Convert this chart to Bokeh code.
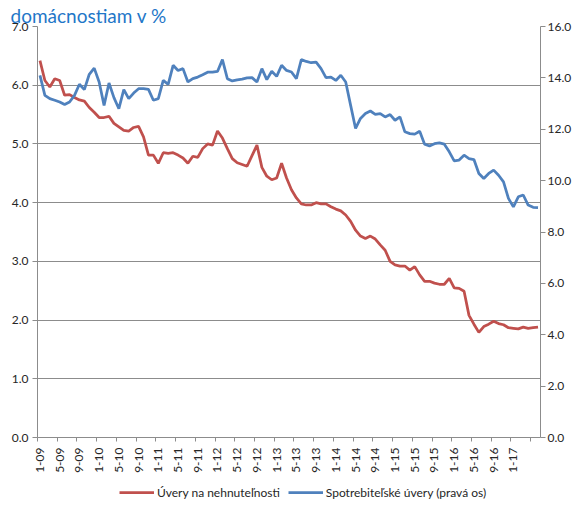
from math import pi
from bokeh.plotting import figure
from bokeh.layouts import column
from bokeh.models import (Range1d, LinearAxis, FixedTicker, NumeralTickFormatter,
                          Legend, LegendItem, SingleIntervalTicker)
from bokeh.embed import file_html
from bokeh.resources import INLINE

# ---------------- data ----------------
tick_labels = ["1-09", "5-09", "9-09", "1-10", "5-10", "9-10", "1-11", "5-11", "9-11",
               "1-12", "5-12", "9-12", "1-13", "5-13", "9-13", "1-14", "5-14", "9-14",
               "1-15", "5-15", "9-15", "1-16", "5-16", "9-16", "1-17"]

# Úvery na nehnuteľnosti (left axis), monthly 1-09 .. 6-17
mortgage = [6.42, 6.08, 5.97, 6.11, 6.08, 5.83, 5.84, 5.79, 5.75, 5.73,
            5.62, 5.54, 5.45, 5.45, 5.47, 5.35, 5.29, 5.23, 5.22, 5.28,
            5.30, 5.12, 4.81, 4.81, 4.67, 4.85, 4.84, 4.85, 4.81, 4.76,
            4.67, 4.79, 4.77, 4.92, 5.00, 4.98, 5.22, 5.10, 4.92, 4.75,
            4.68, 4.65, 4.62, 4.80, 4.98, 4.60, 4.45, 4.39, 4.42, 4.67,
            4.42, 4.22, 4.08, 3.98, 3.96, 3.96, 4.00, 3.98, 3.98, 3.93,
            3.89, 3.86, 3.79, 3.68, 3.53, 3.43, 3.39, 3.43, 3.38, 3.28,
            3.19, 3.00, 2.94, 2.92, 2.92, 2.85, 2.91, 2.77, 2.66, 2.66,
            2.63, 2.61, 2.61, 2.71, 2.55, 2.54, 2.49, 2.08, 1.93, 1.79,
            1.89, 1.93, 1.98, 1.94, 1.92, 1.87, 1.86, 1.85, 1.88, 1.86,
            1.87, 1.88]

# Spotrebiteľské úvery (right axis)
consumer = [14.10, 13.32, 13.19, 13.13, 13.06, 12.96, 13.06, 13.32, 13.75, 13.54,
            14.14, 14.38, 13.84, 12.93, 13.80, 13.23, 12.80, 13.54, 13.19, 13.41,
            13.58, 13.58, 13.55, 13.13, 13.19, 13.90, 13.75, 14.49, 14.29, 14.36,
            13.84, 13.97, 14.03, 14.12, 14.22, 14.22, 14.25, 14.71, 13.97, 13.88,
            13.92, 13.95, 14.00, 14.01, 13.84, 14.36, 13.93, 14.26, 14.06, 14.49,
            14.29, 14.23, 13.97, 14.71, 14.64, 14.59, 14.61, 14.36, 14.01, 14.03,
            13.90, 14.10, 13.84, 12.93, 12.03, 12.42, 12.61, 12.71, 12.58, 12.61,
            12.48, 12.57, 12.35, 12.48, 11.90, 11.83, 11.81, 11.92, 11.42, 11.35,
            11.44, 11.47, 11.42, 11.12, 10.77, 10.80, 10.99, 10.86, 10.82, 10.28,
            10.08, 10.28, 10.41, 10.21, 9.95, 9.31, 8.98, 9.37, 9.44, 9.05,
            8.96, 8.95]

title_text = "domácnostiam v %"
legend_labels = ["Úvery na nehnuteľnosti", "Spotrebiteľské úvery (pravá os)"]

# ---------------- styling ----------------
FONT = "Lato"
GRID = "#8c8c8c"
TEXT = "#262626"
RED = "#C0504D"
BLUE = "#4F81BD"
TITLE_BLUE = "#1f77c8"

n = len(mortgage)
x = list(range(n))

p = figure(width=574, height=475, output_backend="svg", toolbar_location=None,
           x_range=Range1d(-0.5, n - 0.5), y_range=Range1d(0, 7),
           min_border_left=37, min_border_right=31, min_border_top=26,
           min_border_bottom=37)
p.extra_y_ranges = {"right": Range1d(0, 16)}
p.outline_line_color = None
p.background_fill_color = "white"
p.border_fill_color = "white"

# title
p.title.text = title_text
p.title.text_font = FONT
p.title.text_font_size = "19px"
p.title.text_font_style = "normal"
p.title.text_color = TITLE_BLUE
p.title.align = "left"
p.title.offset = -27
p.title.standoff = 0

r1 = p.line(x, mortgage, line_color=RED, line_width=2.75)
r2 = p.line(x, consumer, line_color=BLUE, line_width=2.75, y_range_name="right")

# x axis
xa = p.xaxis[0]
xa.ticker = FixedTicker(ticks=[4 * i for i in range(len(tick_labels))],
                        minor_ticks=[4 * i - 0.5 for i in range(len(tick_labels) + 1)])
xa.major_label_overrides = {4 * i: lab for i, lab in enumerate(tick_labels)}
xa.major_label_orientation = pi / 2
xa.major_tick_out = 0
xa.major_tick_in = 0
xa.minor_tick_out = 4
xa.minor_tick_in = 0
xa.minor_tick_line_color = GRID
xa.axis_line_color = GRID
xa.major_label_standoff = 6
xa.major_label_text_font = FONT
xa.major_label_text_font_size = "12px"
xa.major_label_text_color = TEXT

# left axis
ya = p.yaxis[0]
ya.ticker = SingleIntervalTicker(interval=1)
ya.formatter = NumeralTickFormatter(format="0.0")
ya.major_tick_out = 5
ya.major_tick_in = 0
ya.minor_tick_line_color = None
ya.major_tick_line_color = GRID
ya.axis_line_color = GRID
ya.major_label_standoff = 4
ya.major_label_text_font = FONT
ya.major_label_text_font_size = "12px"
ya.major_label_text_color = TEXT

# right axis
ra = LinearAxis(y_range_name="right", ticker=SingleIntervalTicker(interval=2),
                formatter=NumeralTickFormatter(format="0.0"))
ra.major_tick_out = 5
ra.major_tick_in = 0
ra.minor_tick_line_color = None
ra.major_tick_line_color = GRID
ra.axis_line_color = GRID
ra.major_label_standoff = 2
ra.major_label_text_font = FONT
ra.major_label_text_font_size = "12px"
ra.major_label_text_color = TEXT
p.add_layout(ra, "right")

# grid
p.xgrid.grid_line_color = None
p.ygrid.ticker = SingleIntervalTicker(interval=1)
p.ygrid.grid_line_color = GRID
p.ygrid.grid_line_width = 1

# ---------------- legend strip below the chart ----------------
# the same two series are plotted here, scrolled out of view, only to feed the legend
lg = figure(width=574, height=42, output_backend="svg", toolbar_location=None,
            x_range=Range1d(-0.5, n - 0.5), y_range=Range1d(100, 142),
            x_axis_type=None, y_axis_type=None,
            min_border_left=0, min_border_right=0, min_border_top=0, min_border_bottom=0)
lg.outline_line_color = None
lg.xgrid.grid_line_color = None
lg.ygrid.grid_line_color = None
lg.background_fill_color = "white"
lg.border_fill_color = "white"
k1 = lg.line(x, mortgage, line_color=RED, line_width=2.75)
k2 = lg.line(x, consumer, line_color=BLUE, line_width=2.75)

legend = Legend(items=[LegendItem(label=legend_labels[0], renderers=[k1]),
                       LegendItem(label=legend_labels[1], renderers=[k2])],
                orientation="horizontal", location=(82, 17),
                label_text_font=FONT, label_text_font_size="12px",
                label_text_color=TEXT, glyph_width=35, glyph_height=16,
                label_height=16, label_standoff=3, spacing=8, padding=0,
                margin=0, background_fill_alpha=0, border_line_color=None)
lg.add_layout(legend)

layout = column(p, lg, spacing=0)

open("out.html", "w").write(file_html(layout, INLINE))
